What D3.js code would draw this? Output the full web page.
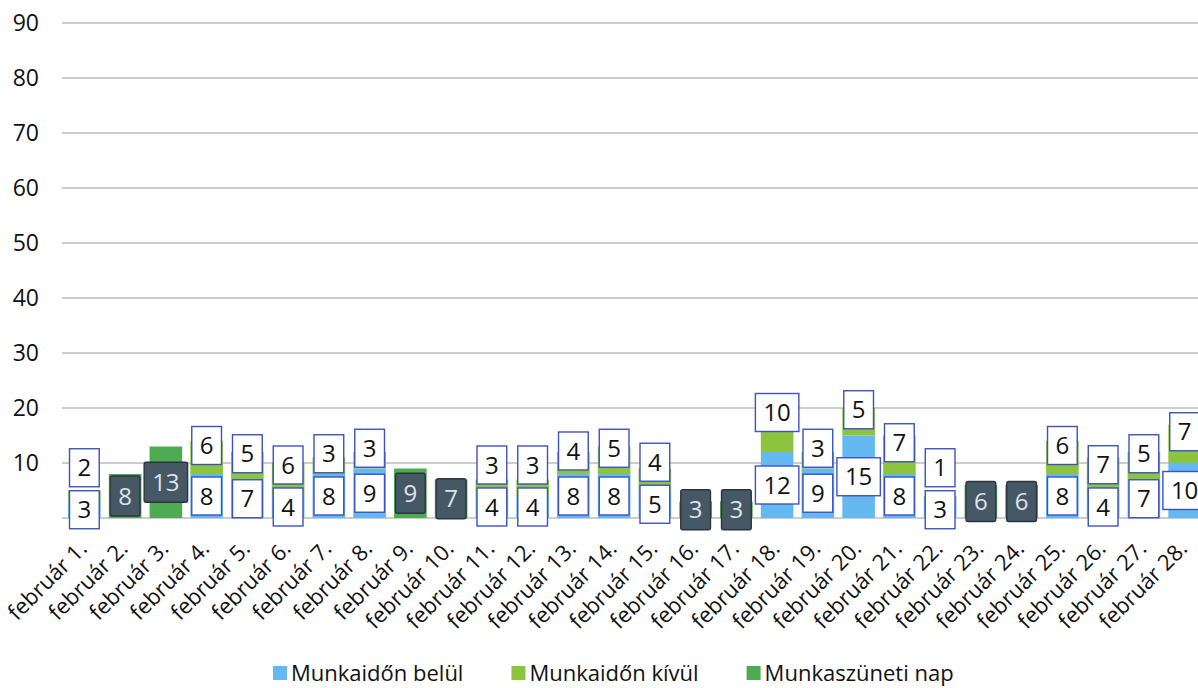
<!DOCTYPE html>
<html>
<head>
<meta charset="utf-8">
<script src="https://cdn.jsdelivr.net/npm/d3@7"></script>
<style>
  body { margin: 0; background: #fff; }
  svg { display: block; font-family: "Open Sans", sans-serif; }
</style>
</head>
<body>
<script>
var days = ["február 1.", "február 2.", "február 3.", "február 4.", "február 5.", "február 6.", "február 7.",
            "február 8.", "február 9.", "február 10.", "február 11.", "február 12.", "február 13.", "február 14.",
            "február 15.", "február 16.", "február 17.", "február 18.", "február 19.", "február 20.", "február 21.",
            "február 22.", "február 23.", "február 24.", "február 25.", "február 26.", "február 27.", "február 28."];

// Munkaidőn belül / Munkaidőn kívül / Munkaszüneti nap
var belul  = [3, 0, 0, 8, 7, 4, 8, 9, 0, 0, 4, 4, 8, 8, 5, 0, 0, 12, 9, 15, 8, 3, 0, 0, 8, 4, 7, 10];
var kivul  = [2, 0, 0, 6, 5, 6, 3, 3, 0, 0, 3, 3, 4, 5, 4, 0, 0, 10, 3, 5, 7, 1, 0, 0, 6, 7, 5, 7];
var szunet = [0, 8, 13, 0, 0, 0, 0, 0, 9, 7, 0, 0, 0, 0, 0, 3, 3, 0, 0, 0, 0, 0, 6, 6, 0, 0, 0, 0];

var seriesNames = ["Munkaidőn belül", "Munkaidőn kívül", "Munkaszüneti nap"];
var yTicks = [10, 20, 30, 40, 50, 60, 70, 80, 90];

var keys = ["belul", "kivul", "szunet"];
var colors = {belul: "#66b8f1", kivul: "#8cc43e", szunet: "#4fab52"};

var W = 1198, H = 688;
var margin = {top: 23, left: 64, bottom: 170};
var plotRight = 1205;

var data = days.map(function(d, i) {
  return {day: d, belul: belul[i], kivul: kivul[i], szunet: szunet[i]};
});

var x = d3.scaleBand()
    .domain(days)
    .range([margin.left, plotRight])
    .paddingInner(0.2)
    .paddingOuter(0.1);

var y = d3.scaleLinear()
    .domain([0, 90])
    .range([518, 23]);

var svg = d3.select("body").append("svg")
    .attr("width", W)
    .attr("height", H);

// gridlines
svg.append("g")
    .selectAll("line")
    .data([0].concat(yTicks))
  .enter().append("line")
    .attr("x1", 62)
    .attr("x2", W)
    .attr("y1", function(d) { return y(d); })
    .attr("y2", function(d) { return y(d); })
    .style("stroke", "#cdcdcd")
    .style("stroke-width", 1.8);

var yAxis = d3.axisLeft(y).tickValues(yTicks).tickSize(0).tickPadding(0);
var gy = svg.append("g")
    .attr("transform", "translate(39,0)")
    .call(yAxis);
gy.select(".domain").remove();
gy.selectAll("text")
    .style("font-size", "23px")
    .style("font-family", "Open Sans, sans-serif")
    .style("fill", "#111");

// bars
var stack = d3.stack().keys(keys);
var layers = stack(data);

svg.append("g")
    .selectAll("g")
    .data(layers)
  .enter().append("g")
    .style("fill", function(d) { return colors[d.key]; })
  .selectAll("rect")
    .data(function(d) { return d; })
  .enter().append("rect")
    .attr("x", function(d) { return x(d.data.day); })
    .attr("width", x.bandwidth())
    .attr("y", function(d) { return y(d[1]); })
    .attr("height", function(d) { return y(d[0]) - y(d[1]); });

// data labels
var boxH = 38;
var labels = svg.append("g").attr("class", "labels");

function addLabel(cx, cy, value, dark) {
  var g = labels.append("g");
  var t = g.append("text")
      .attr("x", cx)
      .attr("y", cy)
      .attr("dy", "0.36em")
      .style("text-anchor", "middle")
      .style("font-size", "24px")
      .style("fill", dark ? "#dde3ea" : "#111")
      .text(value);
  var w = t.node().getComputedTextLength() + 16;
  g.insert("rect", "text")
      .attr("x", cx - w / 2)
      .attr("y", cy - (dark ? 20 : boxH / 2))
      .attr("width", w)
      .attr("height", dark ? 40 : boxH)
      .attr("rx", dark ? 2 : 0)
      .style("fill", dark ? "#465766" : "#fff")
      .style("stroke", dark ? "#2b3540" : "#3c52c4")
      .style("stroke-width", 1.4);
}

data.forEach(function(d) {
  var cx = x(d.day) + x.bandwidth() / 2;
  if (d.szunet > 0) {
    addLabel(cx, y(d.szunet / 2), d.szunet, true);
  } else {
    var cb = y(d.belul / 2);
    addLabel(cx, cb, d.belul, false);
    var ck = y(d.belul + d.kivul / 2) - 12;
    ck = Math.min(ck, cb - boxH - 4);
    addLabel(cx, ck, d.kivul, false);
  }
});

// x labels
svg.append("g")
    .selectAll("text")
    .data(days)
  .enter().append("text")
    .attr("transform", function(d) {
      return "translate(" + (x(d) + x.bandwidth() / 2 + 4) + ",550) rotate(-45)";
    })
    .style("text-anchor", "end")
    .style("font-size", "22px")
    .style("fill", "#111")
    .text(function(d) { return d; });

// legend
var legend = svg.append("g").attr("transform", "translate(273,673)");
var lx = 0;
seriesNames.forEach(function(name, i) {
  var item = legend.append("g").attr("transform", "translate(" + lx + ",0)");
  item.append("rect")
      .attr("x", 0)
      .attr("y", -7)
      .attr("width", 14)
      .attr("height", 14)
      .style("fill", colors[keys[i]]);
  var t = item.append("text")
      .attr("x", 18)
      .attr("dy", "0.35em")
      .style("font-size", "22px")
      .style("fill", "#111")
      .text(name);
  lx += 18 + t.node().getComputedTextLength() + 48;
});
</script>
</body>
</html>
